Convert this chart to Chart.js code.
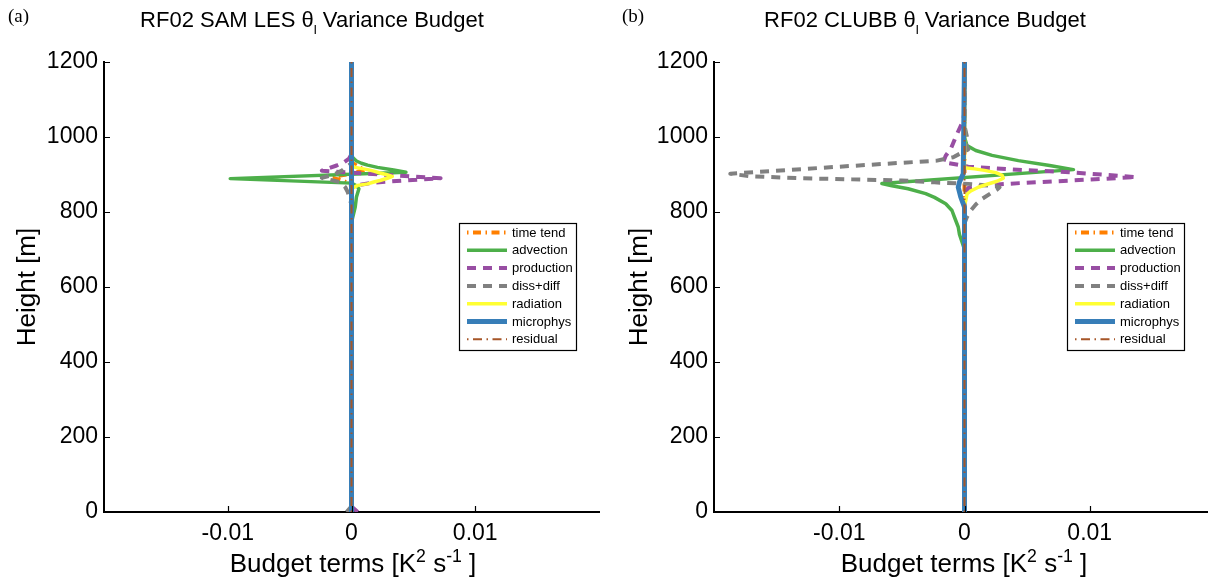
<!DOCTYPE html>
<html>
<head>
<meta charset="utf-8">
<script src="https://cdn.jsdelivr.net/npm/chart.js@4.4.1/dist/chart.umd.min.js"></script>
<style>
  html, body { margin: 0; padding: 0; width: 1208px; height: 582px; overflow: hidden; background: #fff; }
  #stage { position: absolute; left: 0; top: 0; width: 1230px; height: 582px; }
  canvas { position: absolute; top: 0; }
  .tag { position: absolute; top: 6px; font-family: "Liberation Serif", "Times New Roman", serif; font-size: 19px; line-height: 19px; color: #000; }
  .ttl { position: absolute; top: 9px; font-family: "Liberation Sans", Arial, sans-serif; font-size: 22px; line-height: 22px; color: #000; white-space: nowrap; transform: translateX(-50%); }
  .ttl sub { font-size: 62%; vertical-align: -0.5em; line-height: 0; }
  .xlab { position: absolute; top: 550px; font-family: "Liberation Sans", Arial, sans-serif; font-size: 26px; line-height: 26px; color: #000; white-space: nowrap; transform: translateX(-50%); }
  .xlab sup { font-size: 68%; vertical-align: 0.55em; line-height: 0; }
</style>
</head>
<body>
<div id="stage">
  <canvas id="les" width="604" height="582" style="left:0px;width:604px;height:582px"></canvas>
  <canvas id="clubb" width="612" height="582" style="left:604px;width:612px;height:582px"></canvas>
  <div class="tag" style="left:8px">(a)</div>
  <div class="tag" style="left:622px">(b)</div>
  <div class="ttl" style="left:312px">RF02 SAM LES θ<sub>l</sub> Variance Budget</div>
  <div class="ttl" style="left:925px">RF02 CLUBB θ<sub>l</sub> Variance Budget</div>
  <div class="xlab" style="left:353px">Budget terms [K<sup>2</sup> s<sup>-1</sup> ]</div>
  <div class="xlab" style="left:964px">Budget terms [K<sup>2</sup> s<sup>-1</sup> ]</div>
</div>
<script>
// ---- Axis ticks ----
const xTickValues = [-0.01, 0, 0.01];
const xTickLabels = ['-0.01', '0', '0.01'];
const yTickValues = [0, 200, 400, 600, 800, 1000, 1200];

// ---- Budget term names (legend order) ----
const termNames = ['time tend', 'advection', 'production', 'diss+diff', 'radiation', 'microphys', 'residual'];

// ---- SAM LES profiles: height [m] and budget term [K^2 s^-1] ----
const samTimeZ = [0, 870, 878, 885, 889, 893, 900, 907, 912, 920, 932, 1200];
const samTimeV = [0, 0, -0.0003, -0.0008, -0.0013, -0.0017, -0.0004, 0.0004, 0.0011, 0.0006, 0, 0];

const samAdvZ = [0, 770, 786, 813, 840, 862, 870, 877, 889, 906, 912, 919, 925, 930, 936, 942, 950, 1200];
const samAdvV = [0, 0, 0.0001, 0.0003, 0.0004, 0.0006, 0.0004, 0, -0.0098, 0.0044, 0.0034, 0.0021, 0.0013, 0.0008, 0.0004, 0.0002, 0, 0];

const samProdZ = [0, 15, 860, 866, 870, 877, 881, 890, 910, 917, 924, 933, 942, 955, 1200];
const samProdV = [0.0005, 0, 0, 0.0001, 0.0003, 0.0015, 0.0029, 0.0072, -0.0024, -0.0018, -0.0012, -0.0006, -0.0002, 0, 0];

const samDissZ = [0, 15, 820, 840, 853, 866, 879, 885, 891, 900, 910, 920, 930, 1200];
const samDissV = [-0.0004, 0, 0, -0.0002, -0.0003, -0.0005, -0.0009, -0.0016, -0.0024, -0.0014, -0.0008, -0.0004, 0, 0];

const samRadZ = [0, 862, 871, 875, 880, 884, 890, 895, 900, 904, 909, 913, 919, 925, 1200];
const samRadV = [0, 0, 0.0005, 0.0013, 0.0018, 0.0023, 0.0029, 0.0033, 0.0028, 0.0023, 0.0018, 0.0013, 0.0003, 0, 0];

const samMicZ = [0, 1200];
const samMicV = [0, 0];

const samResZ = [0, 1200];
const samResV = [0, 0];

// ---- CLUBB profiles: height [m] and budget term [K^2 s^-1] ----
const clubbTimeZ = [0, 1200];
const clubbTimeV = [0, 0];

const clubbAdvZ = [0, 700, 720, 740, 760, 786, 804, 822, 839, 849, 862, 870, 876, 913, 924, 937, 951, 964, 977, 1000, 1200];
const clubbAdvV = [0, 0, -0.0002, -0.0004, -0.0005, -0.0008, -0.0010, -0.0015, -0.0024, -0.0031, -0.0045, -0.0058, -0.0066, 0.0087, 0.0068, 0.0043, 0.0022, 0.0009, 0.0002, 0, 0];

const clubbProdZ = [0, 850, 864, 871, 877, 886, 893, 906, 912, 921, 933, 950, 968, 1008, 1044, 1070, 1200];
const clubbProdV = [0, 0, 0.0003, 0.0015, 0.0044, 0.0097, 0.0137, 0.0084, 0.0046, 0.0003, -0.0017, -0.0015, -0.0011, -0.0006, -0.0001, 0, 0];

const clubbDissZ = [0, 760, 770, 787, 804, 820, 835, 850, 860, 866, 869, 875, 879, 884, 887, 890, 895, 902, 920, 937, 946, 955, 967, 982, 1000, 1030, 1200];
const clubbDissV = [0, 0, 0, 0.0002, 0.0005, 0.0009, 0.0014, 0.0021, 0.0026, 0.0028, 0.0025, 0.0003, -0.0024, -0.005, -0.009, -0.013, -0.017, -0.0187, -0.0104, -0.0022, -0.0009, -0.0004, 0.0003, 0.0001, 0.0002, 0, 0];

const clubbRadZ = [0, 820, 830, 848, 856, 866, 874, 882, 890, 898, 905, 911, 915, 918, 1200];
const clubbRadV = [0, 0, 0.0001, 0.0002, 0.0005, 0.0011, 0.0018, 0.0026, 0.0031, 0.003, 0.0025, 0.0016, 0.0008, 0, 0];

const clubbMicZ = [0, 813, 840, 866, 880, 902, 1200];
const clubbMicV = [0, 0, -0.0003, -0.0005, -0.0004, -0.0001, 0];

const clubbResZ = [0, 1200];
const clubbResV = [0, 0];

// ---- Line styles for each budget term ----
const termStyles = [
  { color: '#ff7f00', width: 4,   dash: [1.5, 4.5, 8, 4.5] },
  { color: '#4daf4a', width: 3.5, dash: [] },
  { color: '#984ea3', width: 4,   dash: [9, 7] },
  { color: '#808080', width: 4,   dash: [9, 7] },
  { color: '#ffff33', width: 3.5, dash: [] },
  { color: '#377eb8', width: 5,   dash: [] },
  { color: '#a65628', width: 2,   dash: [1.5, 4.5, 9, 4.5] }
];

function profile(z, v) {
  return z.map((h, i) => ({ x: v[i], y: h }));
}

function buildDatasets(profiles) {
  return profiles.map((p, i) => ({
    label: termNames[i],
    data: profile(p[0], p[1]),
    borderColor: termStyles[i].color,
    backgroundColor: termStyles[i].color,
    borderWidth: termStyles[i].width,
    borderDash: termStyles[i].dash,
    borderCapStyle: 'butt',
    borderJoinStyle: 'round',
    showLine: true,
    fill: false,
    tension: 0,
    pointRadius: 0,
    pointHoverRadius: 0,
    order: profiles.length - i   // later terms drawn on top
  }));
}

// Inward tick marks on both axes
const inwardTicks = {
  id: 'inwardTicks',
  afterDatasetsDraw(chart) {
    const { ctx, chartArea: a, scales: { x, y } } = chart;
    ctx.save();
    ctx.strokeStyle = '#000';
    ctx.lineWidth = 1.2;
    ctx.setLineDash([]);
    ctx.beginPath();
    x.ticks.forEach(t => {
      const px = Math.round(x.getPixelForValue(t.value)) + 0.5;
      ctx.moveTo(px, a.bottom);
      ctx.lineTo(px, a.bottom - 6);
    });
    y.ticks.forEach(t => {
      const py = Math.round(y.getPixelForValue(t.value)) + 0.5;
      ctx.moveTo(a.left, py);
      ctx.lineTo(a.left + 6, py);
    });
    ctx.stroke();
    ctx.restore();
  }
};

// Boxed legend inside the axes
const boxLegend = {
  id: 'boxLegend',
  afterDraw(chart, args, opts) {
    const ctx = chart.ctx;
    const L = opts.left, T = opts.top, W = opts.width, H = opts.height;
    ctx.save();
    ctx.fillStyle = '#fff';
    ctx.fillRect(L, T, W, H);
    ctx.strokeStyle = '#000';
    ctx.lineWidth = 1.2;
    ctx.setLineDash([]);
    ctx.strokeRect(L + 0.5, T + 0.5, W, H);
    ctx.font = '13px "Liberation Sans", Arial, sans-serif';
    ctx.textBaseline = 'middle';
    ctx.fillStyle = '#000';
    chart.data.datasets.forEach((ds, i) => {
      const yy = T + 9.5 + i * 17.8;
      ctx.beginPath();
      ctx.strokeStyle = ds.borderColor;
      ctx.lineWidth = ds.borderWidth;
      ctx.lineCap = 'butt';
      ctx.setLineDash(ds.borderDash);
      ctx.moveTo(L + 8, yy);
      ctx.lineTo(L + 48, yy);
      ctx.stroke();
      ctx.setLineDash([]);
      ctx.fillText(ds.label, L + 53, yy + 0.5);
    });
    ctx.restore();
  }
};

function makeChart(id, datasets, yAxisWidth, yTitlePad, legendLeft, rightPad) {
  return new Chart(document.getElementById(id), {
    type: 'scatter',
    data: { datasets },
    plugins: [inwardTicks, boxLegend],
    options: {
      responsive: false,
      animation: false,
      devicePixelRatio: 1,
      layout: { padding: { top: 62, right: rightPad, bottom: 0, left: 0 } },
      plugins: {
        legend: { display: false },
        tooltip: { enabled: false },
        boxLegend: { left: legendLeft, top: 223, width: 117, height: 127 }
      },
      scales: {
        x: {
          type: 'linear',
          position: 'bottom',
          min: -0.02,
          max: 0.02,
          afterBuildTicks: s => { s.ticks = xTickValues.map(v => ({ value: v })); },
          afterFit: s => { s.height = 70; },
          ticks: {
            color: '#000',
            padding: 8,
            autoSkip: false,
            maxRotation: 0,
            font: { family: '"Liberation Sans", Arial, sans-serif', size: 23 },
            callback: v => xTickLabels[xTickValues.indexOf(v)]
          },
          grid: { display: true, drawOnChartArea: false, drawTicks: false },
          border: { display: true, color: '#000', width: 2 }
        },
        y: {
          type: 'linear',
          position: 'left',
          min: 0,
          max: 1200,
          afterBuildTicks: s => { s.ticks = yTickValues.map(v => ({ value: v })); },
          afterFit: s => { s.width = yAxisWidth; },
          ticks: {
            color: '#000',
            padding: 6,
            autoSkip: false,
            font: { family: '"Liberation Sans", Arial, sans-serif', size: 23 },
            callback: v => String(v)
          },
          title: {
            display: true,
            text: 'Height [m]',
            color: '#000',
            padding: { top: yTitlePad, bottom: 0 },
            font: { family: '"Liberation Sans", Arial, sans-serif', size: 26 }
          },
          grid: { display: true, drawOnChartArea: false, drawTicks: false },
          border: { display: true, color: '#000', width: 2 }
        }
      }
    }
  });
}

const samSets = buildDatasets([
  [samTimeZ, samTimeV], [samAdvZ, samAdvV], [samProdZ, samProdV], [samDissZ, samDissV],
  [samRadZ, samRadV], [samMicZ, samMicV], [samResZ, samResV]
]);
const clubbSets = buildDatasets([
  [clubbTimeZ, clubbTimeV], [clubbAdvZ, clubbAdvV], [clubbProdZ, clubbProdV], [clubbDissZ, clubbDissV],
  [clubbRadZ, clubbRadV], [clubbMicZ, clubbMicV], [clubbResZ, clubbResV]
]);

makeChart('les', samSets, 104, 12, 459, 5);
makeChart('clubb', clubbSets, 110, 20, 463, 1);
</script>
</body>
</html>
